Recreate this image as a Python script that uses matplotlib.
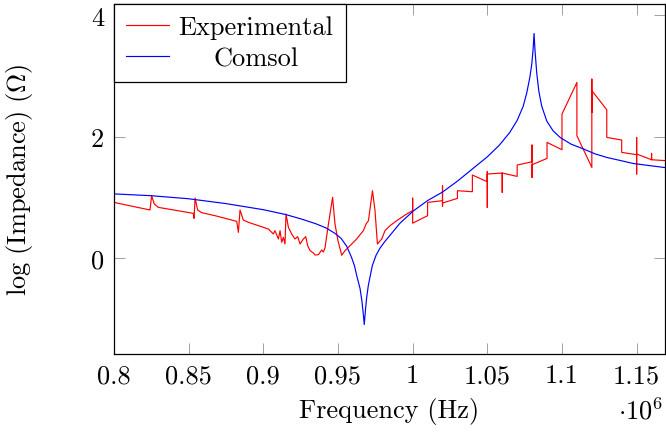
import matplotlib
matplotlib.use("Agg")
import matplotlib.pyplot as plt
from matplotlib.ticker import FixedLocator, FixedFormatter

plt.rcParams['font.family'] = ['cmr10']
plt.rcParams['mathtext.fontset'] = 'cm'
plt.rcParams['axes.unicode_minus'] = False
plt.rcParams['axes.formatter.use_mathtext'] = True

# Frequency in units of 10^6 Hz
exp_freq = [0.8000, 0.8241, 0.8252, 0.8270, 0.8297, 0.8531, 0.8536, 0.8543, 0.8560, 0.8587,
            0.8677, 0.8822, 0.8833, 0.8844, 0.8866, 0.8900, 0.8967, 0.9034, 0.9067, 0.9078,
            0.9101, 0.9112, 0.9123, 0.9134, 0.9145, 0.9152, 0.9168, 0.9190, 0.9212, 0.9230,
            0.9246, 0.9268, 0.9284, 0.9297, 0.9313, 0.9335, 0.9346, 0.9369, 0.9391, 0.9402,
            0.9413, 0.9436, 0.9464, 0.9480, 0.9500, 0.9525, 0.9547, 0.9581, 0.9625, 0.9670,
            0.9688, 0.9704, 0.9731, 0.9748, 0.9764, 0.9793, 0.9815, 0.9849, 0.9893, 0.9960,
            1.0000, 1.0000, 1.0000,
            1.0100, 1.0100, 1.0200, 1.0200, 1.0200, 1.0200, 1.0300, 1.0300,
            1.0400, 1.0400, 1.0500, 1.0500, 1.0500, 1.0500, 1.0600, 1.0600, 1.0600,
            1.0700, 1.0700, 1.0800, 1.0800, 1.0800, 1.0800, 1.0900, 1.0900,
            1.1000, 1.1000, 1.1100, 1.1100, 1.1200, 1.1200, 1.1200, 1.1200,
            1.1300, 1.1300, 1.1400, 1.1400, 1.1500, 1.1500, 1.1500, 1.1500,
            1.1600, 1.1600, 1.1600, 1.1700]
exp_logz = [0.92, 0.795, 1.03, 0.893, 0.838, 0.740, 0.657, 0.992, 0.795, 0.751,
            0.701, 0.608, 0.427, 0.795, 0.630, 0.592, 0.537, 0.482, 0.400, 0.455,
            0.318, 0.455, 0.263, 0.345, 0.235, 0.729, 0.509, 0.400, 0.318, 0.356,
            0.235, 0.318, 0.356, 0.208, 0.126, 0.087, 0.054, 0.060, 0.137, 0.104,
            0.170, 0.564, 1.003, 0.564, 0.290, 0.050, 0.126, 0.208, 0.318, 0.455,
            0.564, 0.619, 1.113, 0.784, 0.236, 0.318, 0.455, 0.537, 0.619, 0.729,
            0.784, 0.990, 0.578,
            0.701, 0.920, 0.948, 1.195, 0.855, 0.910, 0.986, 1.112,
            1.096, 1.370, 1.260, 1.430, 0.838, 1.387, 1.403, 1.085, 1.403,
            1.348, 1.535, 1.589, 1.864, 1.332, 1.540, 1.644, 1.907,
            1.787, 2.373, 2.894, 2.017, 1.496, 2.949, 2.400, 2.760,
            2.445, 1.990, 1.946, 1.743, 1.705, 1.990, 1.387, 1.716,
            1.622, 1.727, 1.622, 1.606]

sim_freq = [0.800, 0.825, 0.850, 0.875, 0.900, 0.915, 0.925, 0.935, 0.942, 0.948,
            0.952, 0.9558, 0.9590, 0.9610, 0.9626, 0.9648, 0.9660, 0.9668, 0.9676, 0.9684,
            0.9692, 0.9703, 0.9715, 0.9730, 0.9755, 0.9782, 0.9815, 0.9849, 0.9916, 1.0005,
            1.010, 1.020, 1.030, 1.040, 1.050, 1.058, 1.065, 1.070, 1.074, 1.0764,
            1.0785, 1.0798, 1.0807, 1.0813, 1.0820, 1.0831, 1.0845, 1.0865, 1.0898, 1.0940,
            1.0987, 1.1060, 1.1143, 1.1220, 1.1300, 1.1390, 1.1478, 1.1700]
sim_logz = [1.06, 1.03, 0.98, 0.90, 0.80, 0.72, 0.65, 0.57, 0.50, 0.41,
            0.33, 0.20, 0.02, -0.12, -0.29, -0.50, -0.70, -0.88, -1.09, -0.85,
            -0.65, -0.45, -0.30, -0.12, 0.05, 0.17, 0.28, 0.38, 0.58, 0.78,
            0.95, 1.09, 1.27, 1.47, 1.67, 1.86, 2.07, 2.27, 2.50, 2.72,
            2.98, 3.20, 3.45, 3.70, 3.40, 3.05, 2.75, 2.50, 2.26, 2.10,
            1.99, 1.88, 1.80, 1.72, 1.66, 1.61, 1.56, 1.49]

x_ticks = [0.8, 0.85, 0.9, 0.95, 1.0, 1.05, 1.1, 1.15]
x_ticklabels = ['0.8', '0.85', '0.9', '0.95', '1', '1.05', '1.1', '1.15']
y_ticks = [0, 2, 4]
y_ticklabels = ['0', '2', '4']

FS = 19

fig = plt.figure(figsize=(6.66, 4.35), dpi=100)
ax = fig.add_axes([114/666, 1 - 354.7/435, 551/666, 350/435])

ax.plot(exp_freq, exp_logz, color='red', lw=0.85, label='Experimental')
ax.plot(sim_freq, sim_logz, color='blue', lw=0.85, label='Comsol')

ax.set_xlim(0.8, 1.169)
ax.set_ylim(-1.57, 4.19)

ax.xaxis.set_major_locator(FixedLocator(x_ticks))
ax.xaxis.set_major_formatter(FixedFormatter(x_ticklabels))
ax.yaxis.set_major_locator(FixedLocator(y_ticks))
ax.yaxis.set_major_formatter(FixedFormatter(y_ticklabels))
ax.tick_params(direction='in', length=8, width=0.6, color='#909090',
               top=True, right=True, labelsize=FS, pad=7)
for s in ax.spines.values():
    s.set_linewidth(0.9)

ax.set_xlabel('Frequency (Hz)', fontsize=FS)
ax.xaxis.set_label_coords(0.5, -0.125)
ax.set_ylabel(r'$\log\,(\mathrm{Impedance})\ (\Omega)$', fontsize=FS)
ax.yaxis.set_label_coords(-0.143, 0.5)

ax.text(0.996, -0.184, r'$\cdot 10^{6}$', transform=ax.transAxes,
        ha='right', va='baseline', fontsize=FS)

leg = ax.legend(loc='upper left', fontsize=FS, borderaxespad=0.0, frameon=True,
                fancybox=False, edgecolor='black', framealpha=1,
                handlelength=1.65, handletextpad=0.35, borderpad=0.45,
                labelspacing=0.27)
leg.get_frame().set_linewidth(0.9)

# centre legend labels within their column (as in the reference)
fig.canvas.draw()
renderer = fig.canvas.get_renderer()
texts = leg.get_texts()
widths = [t.get_window_extent(renderer).width for t in texts]
wmax = max(widths)
for t, w in zip(texts, widths):
    t.set_position(((wmax - w) / 2.0, 0))

fig.savefig('out.png', dpi=100)
